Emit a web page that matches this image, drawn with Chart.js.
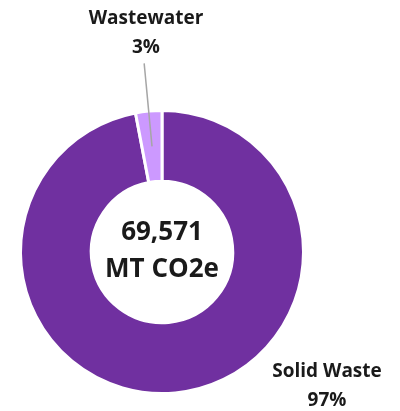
<!DOCTYPE html>
<html>
<head>
<meta charset="utf-8">
<script src="https://cdn.jsdelivr.net/npm/chart.js@4.4.0/dist/chart.umd.min.js"></script>
<style>
  html, body { margin: 0; padding: 0; background: #fff; }
  #wrap { width: 400px; height: 411px; }
</style>
</head>
<body>
<div id="wrap"><canvas id="emissions" width="400" height="411"></canvas></div>
<script>
//-----------Chart data-----------
const categories = ["Solid Waste", "Wastewater"];
const emissions = [67484, 2087];          // MT CO2e per sector
const unitLabel = "MT CO2e";
const sliceColors = ["#7030A0", "#CC99FF"];

// label placement relative to the doughnut centre (style only)
const placements = [
  { dx: 165, dy: 120, leader: 0 },
  { dx: -16, dy: -233, leader: 48 }
];

// draws the data labels, leader line and centre total
const sliceLabels = {
  id: "sliceLabels",
  afterDraw(chart, args, opts) {
    const ctx = chart.ctx;
    const meta = chart.getDatasetMeta(0);
    const values = chart.data.datasets[0].data;
    const total = values.reduce((a, b) => a + b, 0);

    ctx.save();
    meta.data.forEach((arc, i) => {
      const p = opts.placements[i];
      const { x, y, startAngle, endAngle, outerRadius } = arc.getProps(["x", "y", "startAngle", "endAngle", "outerRadius"], true);
      const mid = (startAngle + endAngle) / 2;

      if (p.leader) {
        const c = arc.getCenterPoint(true);
        const r2 = outerRadius + p.leader;
        ctx.beginPath();
        ctx.strokeStyle = "#A6A6A6";
        ctx.lineWidth = 1.5;
        ctx.moveTo(c.x, c.y);
        ctx.lineTo(x + Math.cos(mid) * r2, y + Math.sin(mid) * r2);
        ctx.stroke();
      }

      ctx.fillStyle = "#1a1a1a";
      ctx.textAlign = "center";
      ctx.textBaseline = "middle";
      ctx.font = "bold 19px 'Open Sans'";
      const pct = Math.round(values[i] / total * 100) + "%";
      ctx.fillText(chart.data.labels[i], x + p.dx, y + p.dy);
      ctx.fillText(pct, x + p.dx, y + p.dy + 29);
    });

    // centre total
    const a0 = meta.data[0];
    ctx.font = "bold 26px 'Open Sans'";
    ctx.fillText(total.toLocaleString("en-US"), a0.x, a0.y - 19);
    ctx.fillText(unitLabel, a0.x, a0.y + 18);
    ctx.restore();
  }
};

const ctx = document.getElementById("emissions").getContext("2d");

const config = {
  type: "doughnut",
  data: {
    labels: categories,
    datasets: [{
      data: emissions,
      backgroundColor: sliceColors,
      borderColor: "#ffffff",
      borderWidth: 3,
      hoverOffset: 0
    }]
  },
  options: {
    responsive: false,
    animation: false,
    cutout: "50%",
    layout: {
      padding: { left: 19, right: 95, top: 109, bottom: 16 }
    },
    plugins: {
      legend: { display: false },
      tooltip: { enabled: false },
      sliceLabels: { placements: placements }
    }
  },
  plugins: [sliceLabels]
};

const donut = new Chart(ctx, config);
</script>
</body>
</html>
